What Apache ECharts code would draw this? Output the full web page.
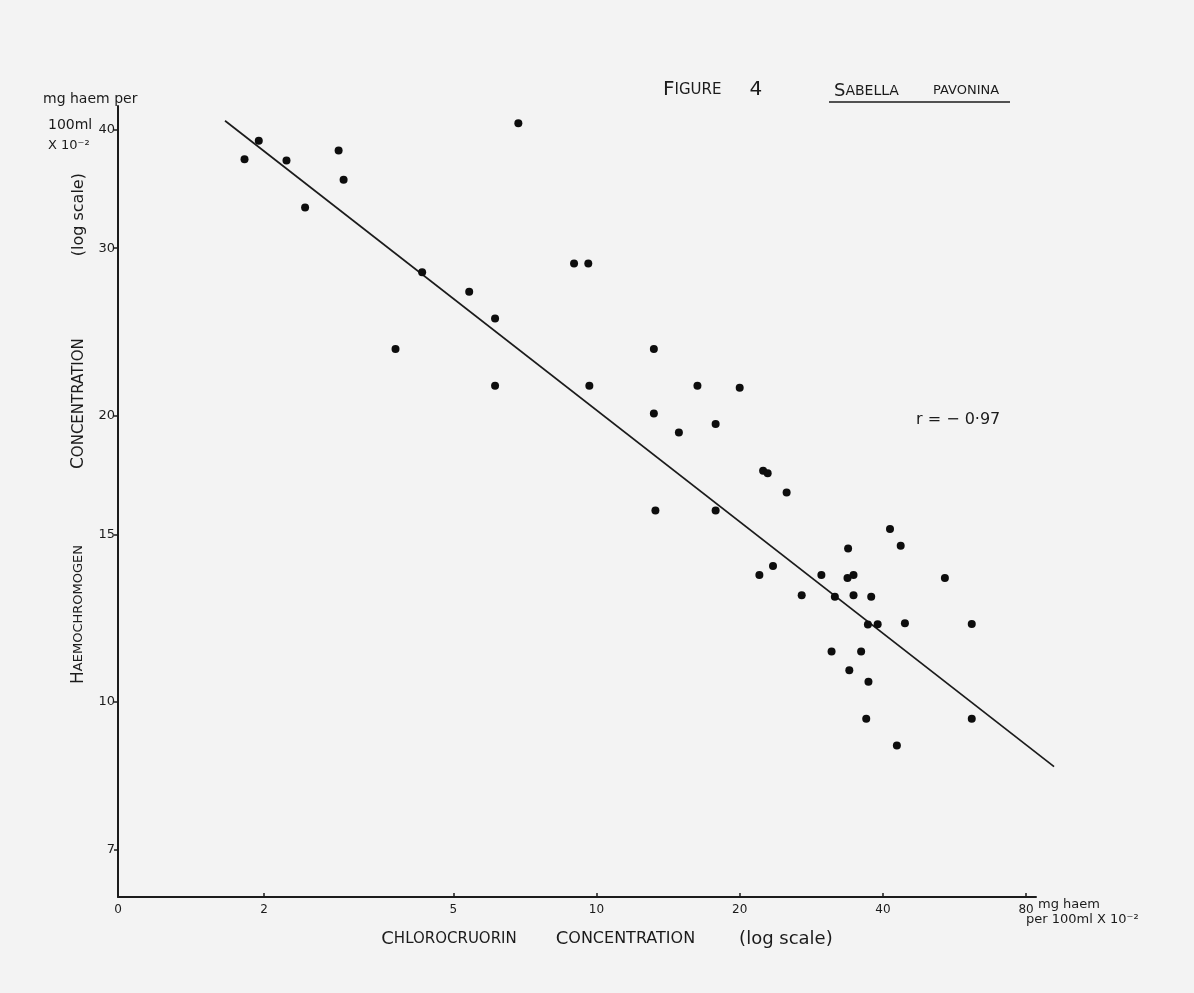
<!DOCTYPE html>
<html>
<head>
<meta charset="utf-8">
<script src="https://cdn.jsdelivr.net/npm/echarts@6/dist/echarts.min.js"></script>
<style>
html,body{margin:0;padding:0;background:#f3f3f3;}
#chart{width:1194px;height:993px;}
</style>
</head>
<body>
<div id="chart"></div>
<script>
// Chlorocruorin concentration (mg haem per 100ml x10^-2), x values
const chlorocruorin = [
  1.82, 1.95, 2.23, 2.44, 2.87, 2.94, 6.85, 4.30, 5.40, 6.12,
  3.78, 6.12, 8.97, 9.61, 9.66, 13.2, 16.3, 20.0, 13.2, 14.9,
  17.8, 22.4, 22.9, 25.1, 13.3, 17.8, 23.5, 22.0, 29.7, 27.0,
  41.4, 43.6, 33.8, 33.7, 34.7, 54.0, 31.7, 34.7, 37.8, 37.2,
  39.0, 44.5, 61.5, 31.2, 36.0, 34.0, 37.3, 36.9, 61.5, 42.8
];
// Haemochromogen concentration (mg haem per 100ml x10^-2), y values
const haemochromogen = [
  37.2, 38.9, 37.1, 33.1, 38.0, 35.4, 40.6, 28.3, 27.0, 25.3,
  23.5, 21.5, 28.9, 28.9, 21.5, 23.5, 21.5, 21.4, 20.1, 19.2,
  19.6, 17.5, 17.4, 16.6, 15.9, 15.9, 13.9, 13.6, 13.6, 12.95,
  15.2, 14.6, 14.5, 13.5, 13.6, 13.5, 12.9, 12.95, 12.9, 12.06,
  12.07, 12.1, 12.08, 11.3, 11.3, 10.8, 10.5, 9.6, 9.6, 9.0
];
// Fitted regression line end points
const fitX = [1.656, 91.6];
const fitY = [40.84, 8.55];
// Tick labels
const xTicks = [2, 5, 10, 20, 40, 80];
const yTicks = [7, 10, 15, 20, 30, 40];
const xOriginLabel = '0';

const X_MIN = 0.9865, X_MAX = 83.93, X_MAX_EXT = 100;
const Y_MIN = 6.237, Y_MAX = 42.32;

const FONT = 'DejaVu Sans';
const INK = '#1b1b1b';

const points = chlorocruorin.map((x, i) => [x, haemochromogen[i]]);
const fitLine = fitX.map((x, i) => [x, fitY[i]]);

// plot area
const G_LEFT = 118, G_TOP = 106, G_W = 918, G_H = 791;
// the fitted line runs past the drawn axis end: an extended, hidden twin grid with the same scale
const pxPerDecade = G_W / (Math.log10(X_MAX) - Math.log10(X_MIN));
const G_W_EXT = pxPerDecade * (Math.log10(X_MAX_EXT) - Math.log10(X_MIN));

const chart = echarts.init(document.getElementById('chart'), null, {renderer: 'canvas'});

const txt = (size) => ({fontSize: size, fontFamily: FONT, color: INK, fontWeight: 'normal'});

const option = {
  backgroundColor: '#f3f3f3',
  animation: false,
  textStyle: {fontFamily: FONT, color: INK},
  title: [
    {
      left: 658, top: 75,
      text: '{b|F}{s|IGURE}{g| }{b|4}',
      textStyle: {
        fontWeight: 'normal',
        rich: {
          b: txt(20),
          s: txt(15),
          g: {width: 28, fontSize: 15}
        }
      }
    },
    {
      left: 829, top: 77,
      text: '{b|S}{s|ABELLA}{g| }{t|PAVONINA}',
      textStyle: {
        fontWeight: 'normal',
        rich: {
          b: txt(18),
          s: txt(14),
          t: txt(13),
          g: {width: 34, fontSize: 12}
        }
      }
    }
  ],
  grid: [
    {left: G_LEFT, top: G_TOP, width: G_W, height: G_H, outerBoundsMode: 'none', containLabel: false},
    {left: G_LEFT, top: G_TOP, width: G_W_EXT, height: G_H, outerBoundsMode: 'none', containLabel: false}
  ],
  xAxis: [
    {
      type: 'log',
      logBase: 10,
      gridIndex: 0,
      min: X_MIN,
      max: X_MAX,
      splitLine: {show: false},
      axisLine: {show: true, lineStyle: {color: INK, width: 2}},
      axisTick: {show: true, inside: true, length: 4, customValues: xTicks, lineStyle: {color: INK, width: 1.5}},
      minorTick: {show: false},
      axisLabel: {
        customValues: [X_MIN * 1.0001].concat(xTicks),
        formatter: v => (v < 1.5 ? xOriginLabel : String(Math.round(v))),
        fontSize: 12, fontFamily: FONT, color: INK, margin: 7
      },
      name: '{c|C}{s|HLOROCRUORIN}{g| }{c|C}{s2|ONCENTRATION}{g2| }{l|(log scale)}',
      nameLocation: 'middle',
      nameGap: 33,
      nameTextStyle: {
        padding: [0, 0, 0, 60],
        rich: {
          c: txt(18),
          s: txt(15),
          s2: txt(16),
          l: txt(18),
          g: {width: 39, fontSize: 14},
          g2: {width: 44, fontSize: 14}
        }
      }
    },
    {
      type: 'log', logBase: 10, gridIndex: 1, min: X_MIN, max: X_MAX_EXT, show: false
    }
  ],
  yAxis: [
    {
      type: 'log',
      logBase: 10,
      gridIndex: 0,
      min: Y_MIN,
      max: Y_MAX,
      splitLine: {show: false},
      axisLine: {show: true, lineStyle: {color: INK, width: 2}},
      axisTick: {show: true, inside: false, length: 4, customValues: yTicks, lineStyle: {color: INK, width: 1.5}},
      minorTick: {show: false},
      axisLabel: {
        customValues: yTicks,
        formatter: v => String(Math.round(v)),
        fontSize: 13, fontFamily: FONT, color: INK, margin: 3
      },
      name: '{c|H}{s|AEMOCHROMOGEN}{g| }{c|C}{s2|ONCENTRATION}{g2| }{l|(log scale)}',
      nameLocation: 'middle',
      nameRotate: 90,
      nameGap: 16,
      nameTextStyle: {
        padding: [0, 0, 0, 146],
        rich: {
          c: txt(17),
          s: txt(13),
          s2: txt(15),
          l: txt(16),
          g: {width: 76, fontSize: 12},
          g2: {width: 82, fontSize: 12}
        }
      }
    },
    {
      type: 'log', logBase: 10, gridIndex: 1, min: Y_MIN, max: Y_MAX, show: false
    }
  ],
  graphic: [
    {type: 'text', left: 43, top: 92, style: {text: 'mg haem per', fontSize: 14, fontFamily: FONT, fill: INK}},
    {type: 'text', left: 48, top: 118, style: {text: '100ml', fontSize: 14, fontFamily: FONT, fill: INK}},
    {type: 'text', left: 48, top: 139, style: {text: 'X 10⁻²', fontSize: 13, fontFamily: FONT, fill: INK}},
    {type: 'text', left: 1038, top: 898, style: {text: 'mg haem', fontSize: 13, fontFamily: FONT, fill: INK}},
    {type: 'text', left: 1026, top: 913, style: {text: 'per 100ml X 10⁻²', fontSize: 13, fontFamily: FONT, fill: INK}},
    {type: 'text', left: 916, top: 412, style: {text: 'r = − 0·97', fontSize: 16, fontFamily: FONT, fill: INK}},
    {type: 'line', shape: {x1: 829, y1: 102, x2: 1010, y2: 102}, style: {stroke: INK, lineWidth: 1.5}}
  ],
  series: [
    {
      type: 'line',
      xAxisIndex: 1,
      yAxisIndex: 1,
      data: fitLine,
      showSymbol: false,
      symbol: 'none',
      lineStyle: {color: INK, width: 1.7},
      z: 2
    },
    {
      type: 'scatter',
      xAxisIndex: 0,
      yAxisIndex: 0,
      data: points,
      symbol: 'circle',
      symbolSize: 8,
      itemStyle: {color: '#0d0d0d', opacity: 1},
      z: 3
    }
  ]
};
chart.setOption(option);
</script>
</body>
</html>
